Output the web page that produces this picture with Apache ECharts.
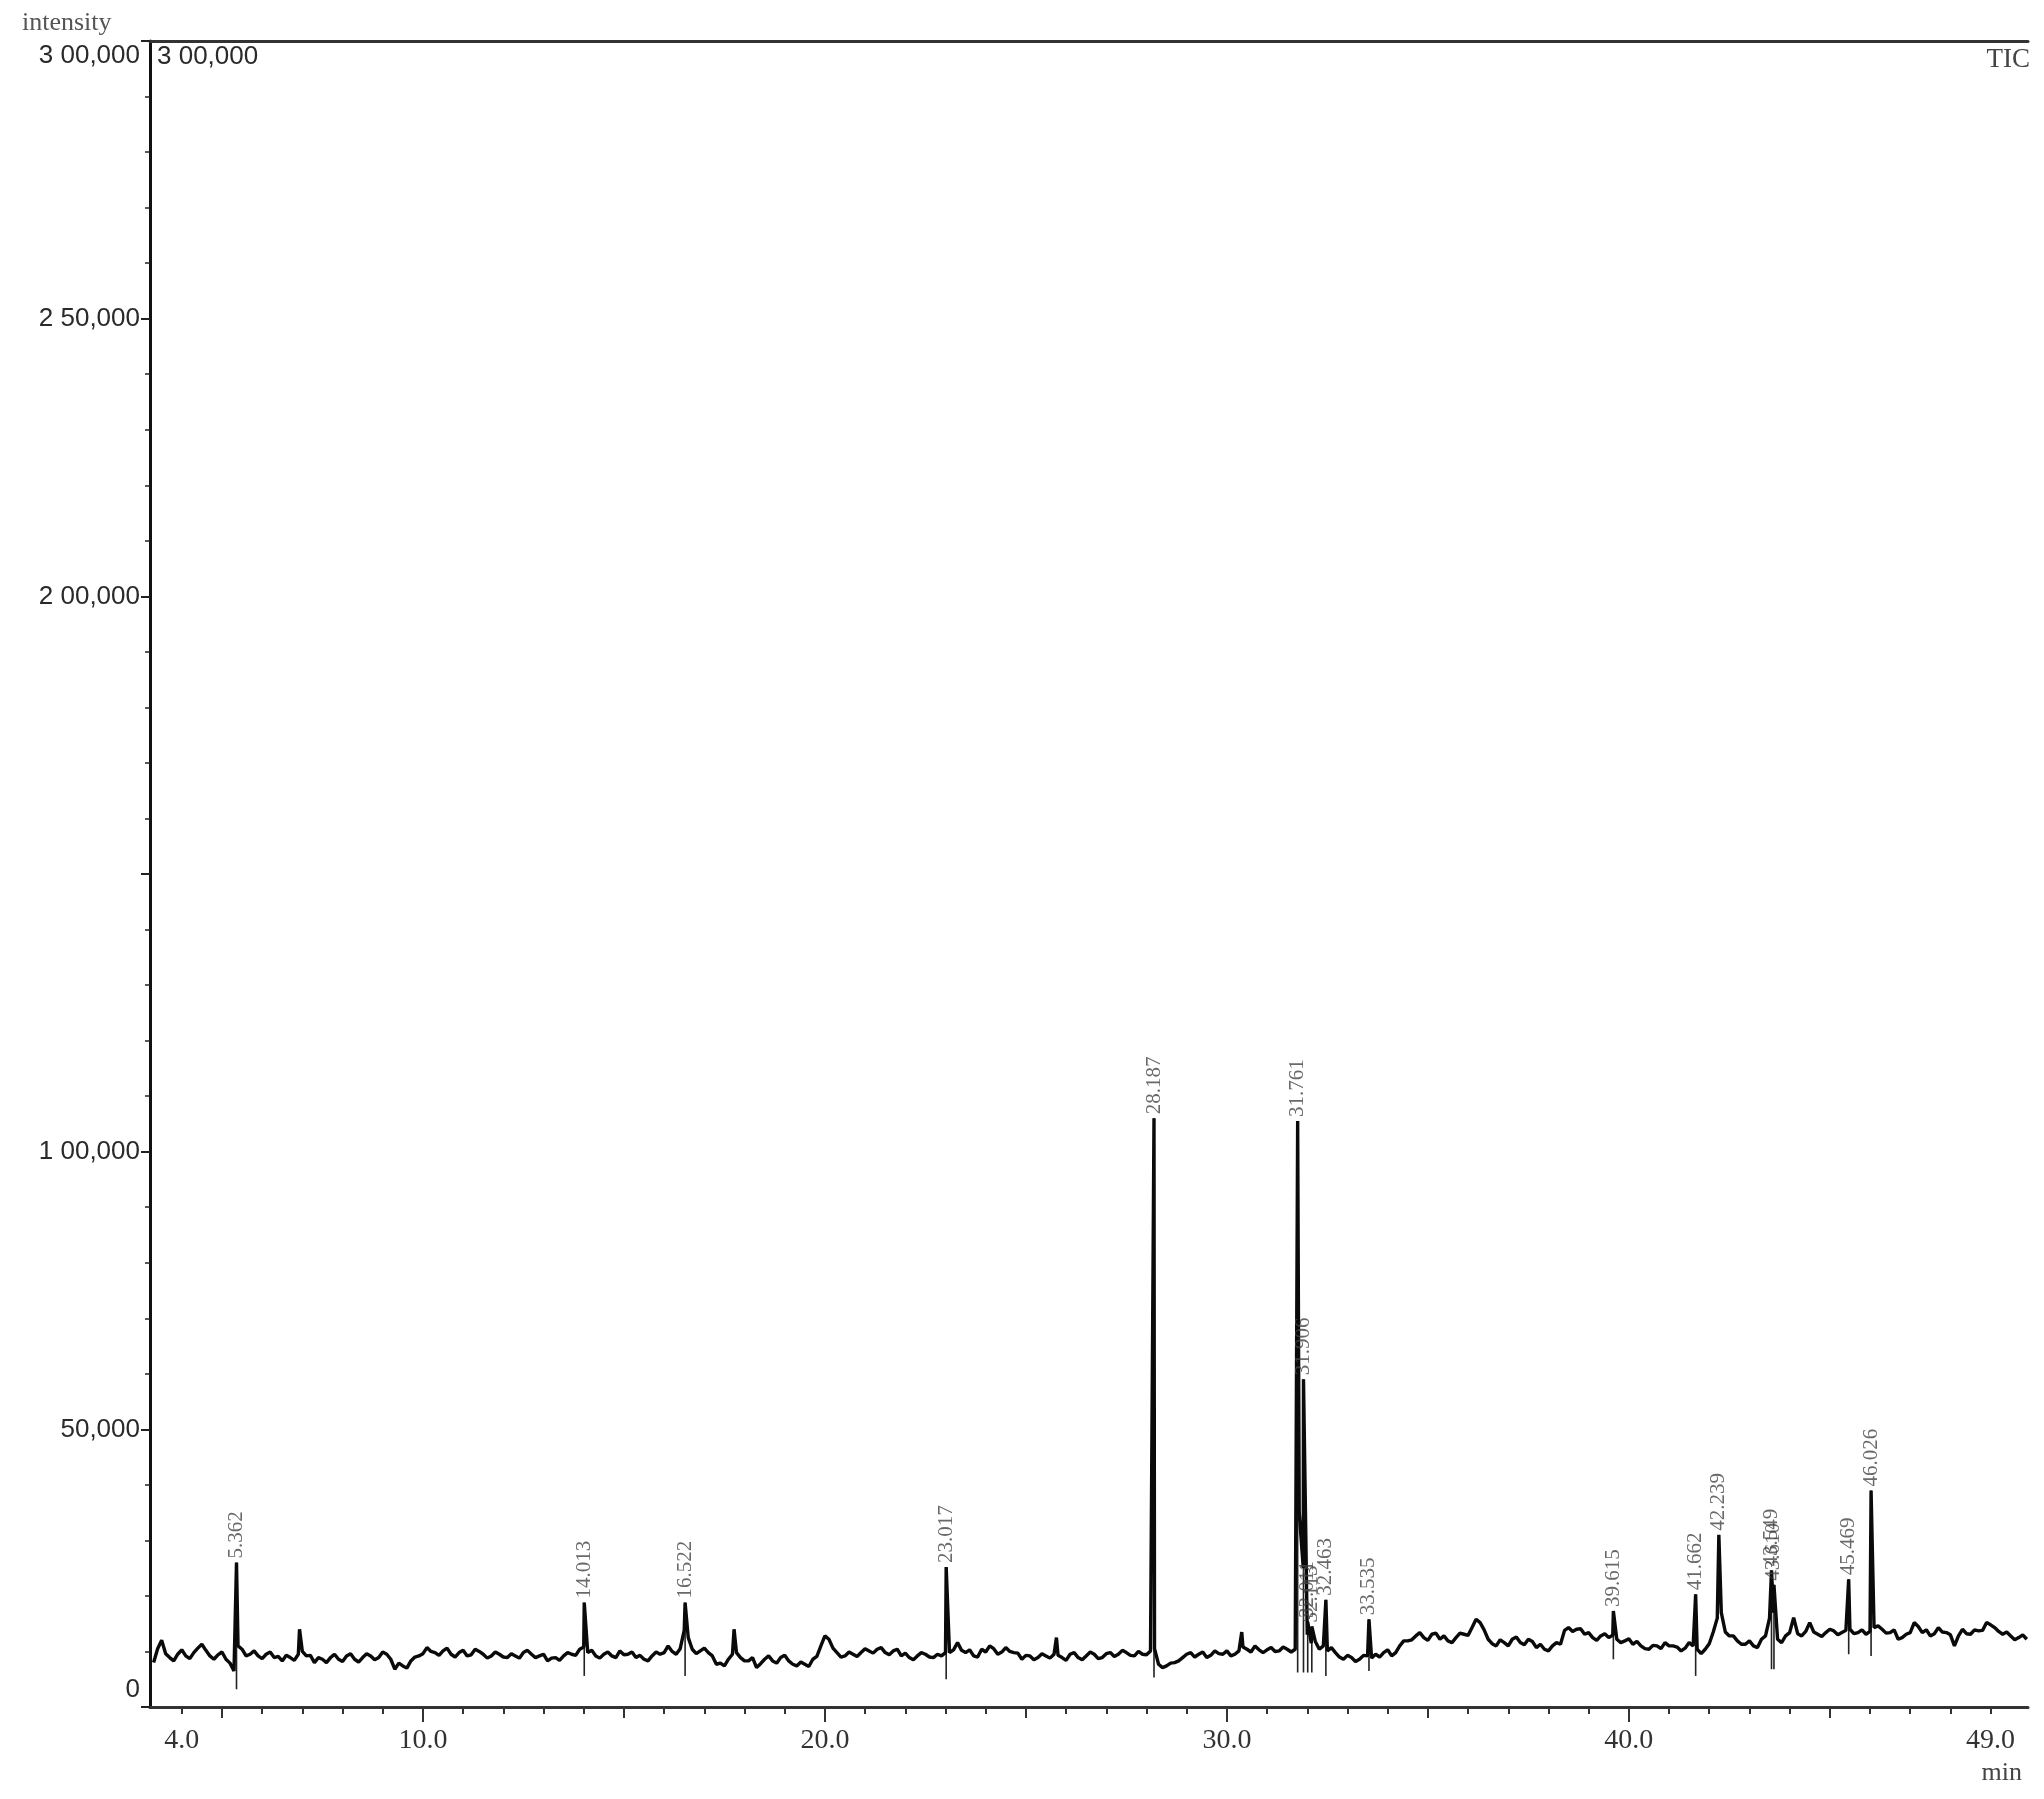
<!DOCTYPE html>
<html><head><meta charset="utf-8">
<script src="https://cdn.jsdelivr.net/npm/echarts@6/dist/echarts.min.js"></script>
<style>html,body{margin:0;padding:0;background:#fff}#c{width:2044px;height:1799px}</style>
</head><body><div id="c"></div>
<script>
// Baseline of the TIC trace, sampled every 0.2 min starting at 3.3 min (x.1, x.3, x.5, x.7, x.9)
const baseStart = 3.3, baseStep = 0.2;
const baseline = [
  /*3.3-3.9*/ 8000, 12000, 8900, 9500,
  /*4*/ 9200, 9800, 11300, 9200, 9400,
  /*5*/ 8600, 6500, 10400, 9500, 9200,
  /*6*/ 9500, 8900, 8300, 8900, 9500,
  /*7*/ 9200, 8000, 8600, 8900, 8600,
  /*8*/ 9200, 8600, 8900, 9200, 8900,
  /*9*/ 9500, 6800, 7400, 8300, 9200,
  /*10*/ 10700, 9800, 10100, 9500, 9800,
  /*11*/ 9200, 10400, 9500, 9200, 9500,
  /*12*/ 8900, 9200, 9800, 9500, 9200,
  /*13*/ 8300, 8900, 9200, 9500, 10400,
  /*14*/ 9800, 9200, 9500, 9200, 10100,
  /*15*/ 9500, 8900, 8600, 9200, 9500,
  /*16*/ 11000, 9500, 13800, 10400, 10100,
  /*17*/ 9800, 7700, 7400, 9500, 8900,
  /*18*/ 8300, 7100, 8600, 8300, 8900,
  /*19*/ 8300, 7400, 7700, 8600, 11000,
  /*20*/ 12200, 9800, 9200, 9500, 9800,
  /*21*/ 10100, 10400, 9800, 10100, 9200,
  /*22*/ 8900, 9200, 9500, 8900, 9200,
  /*23*/ 9800, 11600, 9800, 9200, 10400,
  /*24*/ 11000, 9500, 10700, 9800, 8600,
  /*25*/ 9200, 8900, 9200, 9500, 8900,
  /*26*/ 9500, 8900, 9200, 9500, 8900,
  /*27*/ 9800, 9500, 9800, 9200, 9500,
  /*28*/ 10100, 7700, 7400, 8000, 8900,
  /*29*/ 9800, 9500, 8900, 10100, 9500,
  /*30*/ 9200, 10100, 10400, 11000, 9800,
  /*31*/ 10700, 10100, 10400, 10400, 25000,
  /*32*/ 11500, 10400, 10100, 9800, 8600,
  /*33*/ 8900, 8600, 9200, 9500, 9800,
  /*34*/ 9200, 11000, 11900, 12800, 12500,
  /*35*/ 13100, 12200, 11900, 12500, 13100,
  /*36*/ 14300, 15200, 12200, 11000, 11600,
  /*37*/ 12200, 11600, 12200, 10700, 10400,
  /*38*/ 11000, 11300, 14300, 14000, 13100,
  /*39*/ 12500, 12800, 12500, 12200, 11900,
  /*40*/ 11300, 11000, 10400, 11000, 11600,
  /*41*/ 11000, 10100, 11600, 10400, 10400,
  /*42*/ 13500, 17000, 12800, 11900, 11300,
  /*43*/ 11000, 12200, 16000, 12200, 12800,
  /*44*/ 16100, 12800, 15200, 13100, 13400,
  /*45*/ 13700, 13400, 14000, 13400, 13100,
  /*46*/ 14300, 14000, 13400, 12200, 13100,
  /*47*/ 15200, 13400, 12800, 14300, 13400,
  /*48*/ 11000, 14000, 13100, 13700, 15200,
  /*49*/ 14300, 13100, 12800, 12500, 12200
];
// In-between samples (x.0, x.2, x.4, x.6, x.8) starting at 3.4 min: the fine noise of the trace
const midStart = 3.4;
const baselineMid = [
  /*3.4-3.8*/ 10500, 9600, 8300,
  /*4*/ 10300, 8700, 10600, 10200, 8600,
  /*5*/ 9900, 7900, 11000, 9200, 10100,
  /*6*/ 8700, 9900, 9100, 9300, 8400,
  /*7*/ 10000, 9300, 8900, 8000, 9500,
  /*8*/ 8200, 9600, 8100, 9600, 8500,
  /*9*/ 9900, 8600, 7900, 7000, 9000,
  /*10*/ 9600, 10000, 9300, 10600, 9000,
  /*11*/ 10200, 9400, 10000, 8800, 9900,
  /*12*/ 9000, 9600, 8800, 10200, 8900,
  /*13*/ 9500, 8800, 8400, 9800, 9300,
  /*14*/ 10800, 10200, 8800, 9900, 8900,
  /*15*/ 9400, 9900, 9300, 8300, 9900,
  /*16*/ 9800, 10000, 10500, 12500, 9600,
  /*17*/ 10600, 9200, 7900, 8600, 9800,
  /*18*/ 8300, 8900, 7800, 9200, 7900,
  /*19*/ 9300, 7700, 8100, 7300, 9100,
  /*20*/ 12800, 10600, 9000, 9900, 9100,
  /*21*/ 10500, 9700, 10700, 9400, 10400,
  /*22*/ 9700, 8500, 9800, 9000, 9500,
  /*23*/ 9800, 10300, 10200, 10300, 9000,
  /*24*/ 9900, 10500, 9900, 10000, 9700,
  /*25*/ 9300, 8500, 9600, 8800, 9300,
  /*26*/ 8400, 9800, 8500, 9900, 8700,
  /*27*/ 9600, 9100, 10200, 9300, 10000,
  /*28*/ 9400, 10500, 7100, 7900, 8300,
  /*29*/ 9500, 9000, 9900, 9300, 9600,
  /*30*/ 10100, 9500, 10800, 9900, 10300,
  /*31*/ 10300, 10000, 10800, 9900, 35000,
  /*32*/ 13000, 11800, 11000, 10700, 9000,
  /*33*/ 9300, 8200, 9300, 8800, 9000,
  /*34*/ 10300, 9800, 11900, 12100, 13400,
  /*35*/ 12000, 13300, 12800, 11600, 13300,
  /*36*/ 12900, 15800, 13900, 11400, 12100,
  /*37*/ 11000, 12600, 11200, 11800, 11300,
  /*38*/ 10100, 11600, 13800, 13600, 14100,
  /*39*/ 13400, 12000, 13200, 12900, 11600,
  /*40*/ 12300, 11800, 10500, 11100, 10500,
  /*41*/ 11000, 10800, 10600, 11000, 9600,
  /*42*/ 11400, 16000, 13500, 12800, 11300,
  /*43*/ 11900, 10700, 12800, 17000, 11600,
  /*44*/ 13400, 13200, 13600, 13500, 12700,
  /*45*/ 14000, 13000, 13800, 13200, 13900,
  /*46*/ 13600, 14600, 13300, 13900, 12500,
  /*47*/ 13400, 14500, 13900, 13200, 13500,
  /*48*/ 13000, 12800, 13200, 13900, 13800,
  /*49*/ 14800, 13600, 13500, 12100, 13000
];

// Labelled peaks
const peakTimes   = [5.362, 14.013, 16.522, 23.017, 28.187, 31.761, 31.906, 32.011, 32.113, 32.463, 33.535, 39.615, 41.662, 42.239, 43.549, 43.610, 45.469, 46.026];
const peakHeights = [26000, 18800, 18800, 25200, 106000, 105500, 59000, 15300, 14500, 19300, 15800, 17300, 20300, 31000, 24600, 22000, 23000, 39000];
const peakLabels  = ['5.362','14.013','16.522','23.017','28.187','31.761','31.906','32.011','32.113','32.463','33.535','39.615','41.662','42.239','43.549','43.610','45.469','46.026'];
// lower end of the integration marks drawn under each labelled peak
const markerLows  = [3200, 5600, 5600, 5000, 5300, 6200, 6200, 6200, 6200, 5600, 6500, 8600, 5600, null, 6800, 6800, 9500, 9200];

// Small unlabelled peaks
const minorPeakTimes   = [6.93, 17.74, 25.76, 30.37];
const minorPeakHeights = [14000, 14000, 12500, 13500];

// Axis ticks / labels
const xLabelValues = [4, 10, 20, 30, 40, 49];
const xMinorTicks = [4,5,6,7,8,9,10,11,12,13,14,15,16,17,18,19,20,21,22,23,24,25,26,27,28,29,30,31,32,33,34,35,36,37,38,39,40,41,42,43,44,45,46,47,48,49];
const xMidTicks = [5, 15, 25, 35, 45];
const xMajorTicks = [10, 20, 30, 40];
const yLabelValues = [0, 50000, 100000, 200000, 250000, 300000];
const yLabelTexts  = ['0', '50,000', '1 00,000', '2 00,000', '2 50,000', '3 00,000'];

// Build trace
const trace = [];
baseline.forEach((v, i) => trace.push([+(baseStart + i * baseStep).toFixed(3), v]));
baselineMid.forEach((v, i) => trace.push([+(midStart + i * baseStep).toFixed(3), v]));
peakTimes.forEach((t, i) => trace.push([t, peakHeights[i]]));
minorPeakTimes.forEach((t, i) => trace.push([t, minorPeakHeights[i]]));
trace.sort((a, b) => a[0] - b[0]);

const markers = [];
peakTimes.forEach((t, i) => { if (markerLows[i] != null) markers.push([t, peakHeights[i], markerLows[i]]); });
const labelPts = peakTimes.map((t, i) => [t, peakHeights[i]]);

const XMIN = 3.21, XMAX = 49.93;
const gridBox = {left: 150, right: 16, top: 41, bottom: 92};
const serif = '"Liberation Serif", "Times New Roman", serif';
const sans = '"Liberation Sans", Arial, sans-serif';

const chart = echarts.init(document.getElementById('c'), null, {renderer: 'canvas'});
chart.setOption({
  backgroundColor: '#fff',
  animation: false,
  grid: [Object.assign({}, gridBox), Object.assign({}, gridBox), Object.assign({}, gridBox)],
  xAxis: [
    {gridIndex: 0, type: 'value', min: XMIN, max: XMAX, position: 'bottom',
     axisLine: {lineStyle: {color: '#333', width: 3}},
     axisTick: {customValues: xMinorTicks, length: 7, lineStyle: {color: '#333', width: 2}},
     axisLabel: {customValues: xLabelValues, formatter: v => v.toFixed(1), fontFamily: serif, fontSize: 28, color: '#333', margin: 20},
     splitLine: {show: false}},
    {gridIndex: 0, type: 'value', min: XMIN, max: XMAX, position: 'top',
     axisLine: {lineStyle: {color: '#333', width: 3}}, axisTick: {show: false}, axisLabel: {show: false}, splitLine: {show: false}},
    {gridIndex: 1, type: 'value', min: XMIN, max: XMAX, position: 'bottom',
     axisLine: {show: false}, axisTick: {customValues: xMidTicks, length: 11, lineStyle: {color: '#333', width: 2}},
     axisLabel: {show: false}, splitLine: {show: false}},
    {gridIndex: 2, type: 'value', min: XMIN, max: XMAX, position: 'bottom',
     axisLine: {show: false}, axisTick: {customValues: xMajorTicks, length: 15, lineStyle: {color: '#333', width: 2}},
     axisLabel: {show: false}, splitLine: {show: false}}
  ],
  yAxis: [
    {gridIndex: 0, type: 'value', min: 0, max: 300000, interval: 50000,
     axisLine: {show: true, lineStyle: {color: '#111', width: 3}},
     axisTick: {show: true, length: 9, lineStyle: {color: '#222', width: 2}},
     minorTick: {show: true, splitNumber: 5, length: 5, lineStyle: {color: '#222', width: 1.5}},
     axisLabel: {customValues: yLabelValues, margin: 10, fontFamily: sans, fontSize: 26, color: '#2a2a2a',
       formatter: v => {
         const t = yLabelTexts[yLabelValues.indexOf(v)];
         if (v === 300000) return '{top|' + t + '}';
         if (v === 0) return '{bot|' + t + '}';
         return t;
       },
       rich: {
         top: {fontFamily: sans, fontSize: 26, color: '#2a2a2a', padding: [30, 0, 0, 0]},
         bot: {fontFamily: sans, fontSize: 26, color: '#2a2a2a', padding: [0, 0, 34, 0]}
       }},
     splitLine: {show: false}, minorSplitLine: {show: false}},
    {gridIndex: 1, type: 'value', min: 0, max: 300000, show: false},
    {gridIndex: 2, type: 'value', min: 0, max: 300000, show: false}
  ],
  series: [
    {type: 'line', xAxisIndex: 0, yAxisIndex: 0, data: trace, showSymbol: false, symbol: 'none',
     sampling: 'none', lineStyle: {color: '#0a0a0a', width: 3.4}, z: 3},
    {type: 'custom', xAxisIndex: 0, yAxisIndex: 0, data: markers, z: 2,
     renderItem: (params, api) => {
       const p1 = api.coord([api.value(0), api.value(1)]);
       const p2 = api.coord([api.value(0), api.value(2)]);
       return {type: 'line', shape: {x1: p1[0], y1: p1[1], x2: p2[0], y2: p2[1]}, style: {stroke: '#222', lineWidth: 1.6}};
     }},
    {type: 'scatter', xAxisIndex: 0, yAxisIndex: 0, data: labelPts, symbolSize: 0, z: 4,
     label: {show: true, position: 'top', distance: 4, rotate: 90, align: 'left', verticalAlign: 'middle',
       formatter: p => peakLabels[p.dataIndex], fontFamily: serif, fontSize: 21, color: '#444'}}
  ],
  graphic: [
    {type: 'text', left: 22, top: 10, style: {text: 'intensity', font: '26px ' + serif, fill: '#555'}},
    {type: 'text', left: 157, top: 44, style: {text: '3 00,000', font: '26px ' + sans, fill: '#2a2a2a'}},
    {type: 'text', right: 14, top: 46, style: {text: 'TIC', font: '27px ' + serif, fill: '#444'}},
    {type: 'text', right: 22, top: 1760, style: {text: 'min', font: '26px ' + serif, fill: '#444'}}
  ]
});
</script></body></html>
